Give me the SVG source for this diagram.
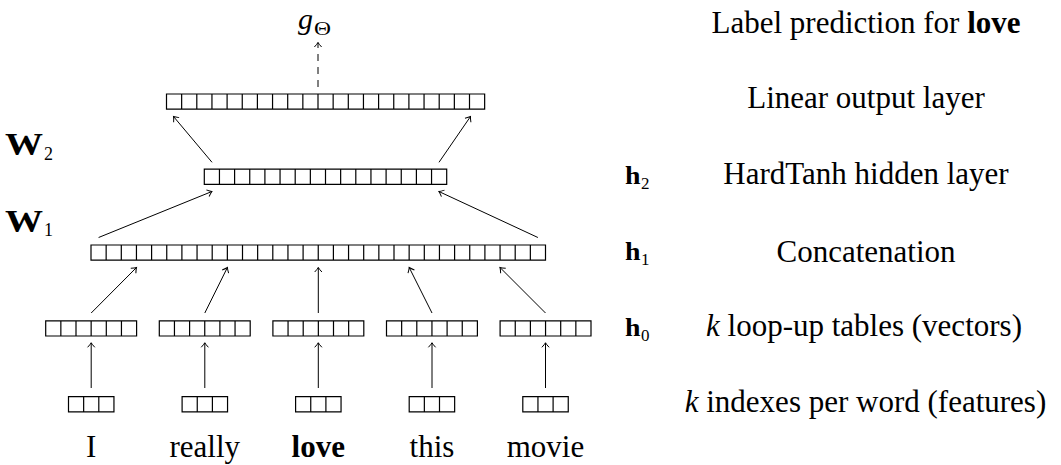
<svg xmlns="http://www.w3.org/2000/svg" width="1061" height="465" viewBox="0 0 1061 465">
<style>
.bar{fill:none;stroke:#000;stroke-width:1.2}
.edge{fill:none;stroke:#000;stroke-width:1;marker-end:url(#arr)}
.dash{stroke-dasharray:7 6}
.t{font-family:"Liberation Serif","Times New Roman",serif;font-size:31px;fill:#000}
.c{text-anchor:middle}
.b{font-weight:bold}
.m{font-family:"Liberation Serif","Times New Roman",serif;fill:#000}
</style>
<defs>
<marker id="arr" markerUnits="userSpaceOnUse" markerWidth="12" markerHeight="12" refX="0" refY="0" viewBox="-6 -6 12 12" orient="auto" overflow="visible">
<path d="M-4.5,-3.6 Q-1.6,-0.9 0,0 Q-1.6,0.9 -4.5,3.6" fill="none" stroke="#000" stroke-width="1"/>
</marker>
</defs>
<rect width="1061" height="465" fill="#fff"/>

<g id="connectors">
<line class="edge dash" x1="318" y1="87" x2="318" y2="42.5"/>
<line class="edge" x1="212" y1="162.3" x2="173.5" y2="116.5"/>
<line class="edge" x1="439" y1="162.3" x2="470.5" y2="116.5"/>
<line class="edge" x1="98.6" y1="237.5" x2="211.9" y2="191.5"/>
<line class="edge" x1="537.9" y1="237.5" x2="438.9" y2="191.5"/>
<line class="edge" x1="91.2" y1="313" x2="136.5" y2="267.5"/>
<line class="edge" x1="204.8" y1="313" x2="227.4" y2="267.5"/>
<line class="edge" x1="318.3" y1="313" x2="318.3" y2="267.5"/>
<line class="edge" x1="432" y1="313" x2="409.2" y2="267.5"/>
<line class="edge" x1="545.5" y1="313" x2="500" y2="267.5"/>
<line class="edge" x1="91.2" y1="388" x2="91.2" y2="342.8"/>
<line class="edge" x1="204.8" y1="388" x2="204.8" y2="342.8"/>
<line class="edge" x1="318.3" y1="388" x2="318.3" y2="342.8"/>
<line class="edge" x1="432" y1="388" x2="432" y2="342.8"/>
<line class="edge" x1="545.5" y1="388" x2="545.5" y2="342.8"/>
</g>

<g id="output">
<text class="m" x="298" y="29" font-size="30" font-style="italic">g</text>
<text class="m" x="314" y="35" font-size="19" textLength="17" lengthAdjust="spacingAndGlyphs">Θ</text>
</g>

<g id="output-layer">
<path class="bar" d="M166.5 94h318.15v15.2h-318.15z m15.15 0v15.2 m15.15-15.2v15.2 m15.15-15.2v15.2 m15.15-15.2v15.2 m15.15-15.2v15.2 m15.15-15.2v15.2 m15.15-15.2v15.2 m15.15-15.2v15.2 m15.15-15.2v15.2 m15.15-15.2v15.2 m15.15-15.2v15.2 m15.15-15.2v15.2 m15.15-15.2v15.2 m15.15-15.2v15.2 m15.15-15.2v15.2 m15.15-15.2v15.2 m15.15-15.2v15.2 m15.15-15.2v15.2 m15.15-15.2v15.2 m15.15-15.2v15.2"/>
</g>

<g id="hidden-layer">
<path class="bar" d="M204.3 169.2h242.4v15.2h-242.4z m15.15 0v15.2 m15.15-15.2v15.2 m15.15-15.2v15.2 m15.15-15.2v15.2 m15.15-15.2v15.2 m15.15-15.2v15.2 m15.15-15.2v15.2 m15.15-15.2v15.2 m15.15-15.2v15.2 m15.15-15.2v15.2 m15.15-15.2v15.2 m15.15-15.2v15.2 m15.15-15.2v15.2 m15.15-15.2v15.2 m15.15-15.2v15.2"/>
</g>

<g id="concat-layer">
<path class="bar" d="M91 245h454.5v15.2h-454.5z m15.15 0v15.2 m15.15-15.2v15.2 m15.15-15.2v15.2 m15.15-15.2v15.2 m15.15-15.2v15.2 m15.15-15.2v15.2 m15.15-15.2v15.2 m15.15-15.2v15.2 m15.15-15.2v15.2 m15.15-15.2v15.2 m15.15-15.2v15.2 m15.15-15.2v15.2 m15.15-15.2v15.2 m15.15-15.2v15.2 m15.15-15.2v15.2 m15.15-15.2v15.2 m15.15-15.2v15.2 m15.15-15.2v15.2 m15.15-15.2v15.2 m15.15-15.2v15.2 m15.15-15.2v15.2 m15.15-15.2v15.2 m15.15-15.2v15.2 m15.15-15.2v15.2 m15.15-15.2v15.2 m15.15-15.2v15.2 m15.15-15.2v15.2 m15.15-15.2v15.2 m15.15-15.2v15.2"/>
</g>

<g id="lookup-I"><path class="bar" d="M45.7 320.8h90.9v15.2h-90.9z m15.15 0v15.2 m15.15-15.2v15.2 m15.15-15.2v15.2 m15.15-15.2v15.2 m15.15-15.2v15.2"/></g>
<g id="lookup-really"><path class="bar" d="M159.3 320.8h90.9v15.2h-90.9z m15.15 0v15.2 m15.15-15.2v15.2 m15.15-15.2v15.2 m15.15-15.2v15.2 m15.15-15.2v15.2"/></g>
<g id="lookup-love"><path class="bar" d="M272.9 320.8h90.9v15.2h-90.9z m15.15 0v15.2 m15.15-15.2v15.2 m15.15-15.2v15.2 m15.15-15.2v15.2 m15.15-15.2v15.2"/></g>
<g id="lookup-this"><path class="bar" d="M386.5 320.8h90.9v15.2h-90.9z m15.15 0v15.2 m15.15-15.2v15.2 m15.15-15.2v15.2 m15.15-15.2v15.2 m15.15-15.2v15.2"/></g>
<g id="lookup-movie"><path class="bar" d="M500.1 320.8h90.9v15.2h-90.9z m15.15 0v15.2 m15.15-15.2v15.2 m15.15-15.2v15.2 m15.15-15.2v15.2 m15.15-15.2v15.2"/></g>

<g id="index-I"><path class="bar" d="M68.5 396.6h45.45v15.2h-45.45z m15.15 0v15.2 m15.15-15.2v15.2"/></g>
<g id="index-really"><path class="bar" d="M182.1 396.6h45.45v15.2h-45.45z m15.15 0v15.2 m15.15-15.2v15.2"/></g>
<g id="index-love"><path class="bar" d="M295.6 396.6h45.45v15.2h-45.45z m15.15 0v15.2 m15.15-15.2v15.2"/></g>
<g id="index-this"><path class="bar" d="M409.2 396.6h45.45v15.2h-45.45z m15.15 0v15.2 m15.15-15.2v15.2"/></g>
<g id="index-movie"><path class="bar" d="M522.8 396.6h45.45v15.2h-45.45z m15.15 0v15.2 m15.15-15.2v15.2"/></g>

<g id="words">
<text class="t c" x="91.2" y="457">I</text>
<text class="t c" x="204.8" y="457">really</text>
<text class="t c b" x="318.3" y="457">love</text>
<text class="t c" x="432" y="457">this</text>
<text class="t c" x="545.5" y="457">movie</text>
</g>

<g id="weights">
<text class="m" x="5" y="155" font-size="31" font-weight="bold" textLength="38" lengthAdjust="spacingAndGlyphs">W</text>
<text class="m" x="44" y="159.5" font-size="18">2</text>
<text class="m" x="5" y="231.7" font-size="31" font-weight="bold" textLength="38" lengthAdjust="spacingAndGlyphs">W</text>
<text class="m" x="44" y="236" font-size="18">1</text>
</g>

<g id="layer-names">
<text class="m" x="625" y="184" font-size="25" font-weight="bold" textLength="15.5" lengthAdjust="spacingAndGlyphs">h</text>
<text class="m" x="641" y="188.5" font-size="17">2</text>
<text class="m" x="625" y="260" font-size="25" font-weight="bold" textLength="15.5" lengthAdjust="spacingAndGlyphs">h</text>
<text class="m" x="641" y="264.5" font-size="17">1</text>
<text class="m" x="625" y="336" font-size="25" font-weight="bold" textLength="15.5" lengthAdjust="spacingAndGlyphs">h</text>
<text class="m" x="641" y="340.5" font-size="17">0</text>
</g>

<g id="descriptions">
<text class="t c" x="866" y="33">Label prediction for <tspan font-weight="bold">love</tspan></text>
<text class="t c" x="866" y="108">Linear output layer</text>
<text class="t c" x="866" y="184">HardTanh hidden layer</text>
<text class="t c" x="866" y="262">Concatenation</text>
<text class="t c" x="864" y="336"><tspan font-style="italic">k</tspan> loop-up tables (vectors)</text>
<text class="t c" x="865.5" y="412"><tspan font-style="italic">k</tspan> indexes per word (features)</text>
</g>
</svg>
